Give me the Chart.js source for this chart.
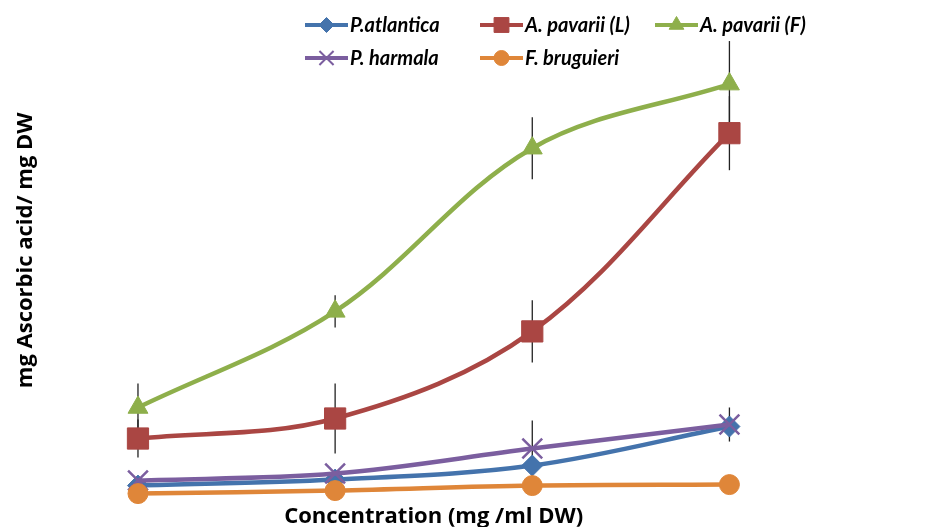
<!DOCTYPE html>
<html>
<head>
<meta charset="utf-8">
<script src="https://cdn.jsdelivr.net/npm/chart.js@4.4.1/dist/chart.umd.min.js"></script>
<style>
  html, body { margin: 0; padding: 0; background: #fff; }
  #wrap { width: 941px; height: 527px; position: relative; }
</style>
</head>
<body>
<div id="wrap"><canvas id="chart"></canvas></div>
<script>
// x categories (no tick labels shown in the original)
const concentrations = ['C1', 'C2', 'C3', 'C4'];

// mg ascorbic acid / mg DW
const pAtlantica = [0.15, 0.21, 0.35, 0.74];
const aPavariiL = [0.62, 0.82, 1.69, 3.67];
const aPavariiF = [0.93, 1.89, 3.52, 4.16];
const pHarmala = [0.20, 0.27, 0.52, 0.76];
const fBruguieri = [0.07, 0.10, 0.15, 0.16];

// error bar half-lengths (0 = none drawn)
const errPAtlantica = [0, 0, 0, 0];
const errAPavariiL = [0.19, 0.35, 0.31, 0.37];
const errAPavariiF = [0.24, 0.16, 0.31, 0.43];
const errPHarmala = [0, 0, 0.28, 0.17];
const errFBruguieri = [0, 0, 0, 0];

const seriesColors = {
    'P.atlantica': '#4473AC',
    'A. pavarii (L)': '#AA4643',
    'A. pavarii (F)': '#8EAF4B',
    'P. harmala': '#7B5E9F',
    'F. bruguieri': '#DF8639'
};

function makeSet(label, data, err, style, radius, legendRadius, order) {
    const c = seriesColors[label];
    return {
        label: label,
        data: data,
        err: err,
        borderColor: c,
        backgroundColor: c,
        borderWidth: 4.5,
        pointStyle: style,
        pointRadius: radius,
        pointBorderWidth: style === 'crossRot' ? 2.5 : 1,
        pointBackgroundColor: c,
        pointBorderColor: c,
        legendRadius: legendRadius,
        tension: 0.35,
        clip: false,
        order: order
    };
}

// vertical error bars, drawn behind the lines
const errorBars = {
    id: 'errorBars',
    beforeDatasetsDraw(chart) {
        const ctx = chart.ctx;
        const y = chart.scales.y;
        ctx.save();
        ctx.strokeStyle = '#222';
        ctx.lineWidth = 1.3;
        chart.data.datasets.forEach((ds, i) => {
            const meta = chart.getDatasetMeta(i);
            ds.err.forEach((e, j) => {
                if (!e) return;
                const px = meta.data[j].x;
                ctx.beginPath();
                ctx.moveTo(px, y.getPixelForValue(ds.data[j] + e));
                ctx.lineTo(px, y.getPixelForValue(ds.data[j] - e));
                ctx.stroke();
            });
        });
        ctx.restore();
    }
};

// two-row legend laid over the top of the plot like the original
const legendBox = {
    id: 'legendBox',
    afterDraw(chart) {
        const ctx = chart.ctx;
        const cols = [305, 480, 655];
        const rows = [25, 58];
        ctx.save();
        chart.data.datasets.forEach((ds, i) => {
            const x = cols[i % 3];
            const yy = rows[Math.floor(i / 3)];
            ctx.strokeStyle = ds.borderColor;
            ctx.lineWidth = 4;
            ctx.beginPath();
            ctx.moveTo(x, yy);
            ctx.lineTo(x + 43, yy);
            ctx.stroke();
            ctx.fillStyle = ds.borderColor;
            ctx.lineWidth = ds.pointStyle === 'crossRot' ? 2 : 1;
            Chart.helpers.drawPoint(ctx, {
                pointStyle: ds.pointStyle,
                radius: ds.legendRadius,
                borderWidth: ctx.lineWidth,
                rotation: 0
            }, x + 21.5, yy);
            ctx.fillStyle = '#000';
            ctx.font = 'italic bold 20px Lato';
            ctx.textBaseline = 'middle';
            ctx.fillText(ds.label, x + 45, yy + 1);
        });
        ctx.restore();
    }
};

const titleFont = { family: 'Open Sans', weight: 'bold', size: 22 };

new Chart(document.getElementById('chart'), {
    type: 'line',
    data: {
        labels: concentrations,
        datasets: [
            makeSet('P.atlantica', pAtlantica, errPAtlantica, 'rectRot', 10.5, 7.5, 5),
            makeSet('A. pavarii (L)', aPavariiL, errAPavariiL, 'rect', 15, 10.5, 4),
            makeSet('A. pavarii (F)', aPavariiF, errAPavariiF, 'triangle', 11.5, 8.5, 3),
            makeSet('P. harmala', pHarmala, errPHarmala, 'crossRot', 14, 10, 2),
            makeSet('F. bruguieri', fBruguieri, errFBruguieri, 'circle', 10, 7.5, 1)
        ]
    },
    options: {
        responsive: true,
        maintainAspectRatio: false,
        animation: false,
        layout: { autoPadding: false, padding: { left: 9, right: 113, top: 0, bottom: -3 } },
        scales: {
            x: {
                offset: true,
                grid: { display: false, drawTicks: false },
                border: { display: false },
                ticks: { display: false },
                title: {
                    display: true,
                    text: 'Concentration (mg /ml DW)',
                    color: '#000',
                    font: titleFont,
                    padding: { top: 3, bottom: 0 }
                }
            },
            y: {
                min: 0,
                max: 5,
                grid: { display: false, drawTicks: false },
                border: { display: false },
                ticks: { display: false },
                title: {
                    display: true,
                    text: 'mg Ascorbic acid/ mg DW',
                    color: '#000',
                    font: titleFont,
                    padding: { top: 4, bottom: 0 }
                }
            }
        },
        plugins: {
            legend: { display: false },
            tooltip: { enabled: false }
        }
    },
    plugins: [errorBars, legendBox]
});
</script>
</body>
</html>
